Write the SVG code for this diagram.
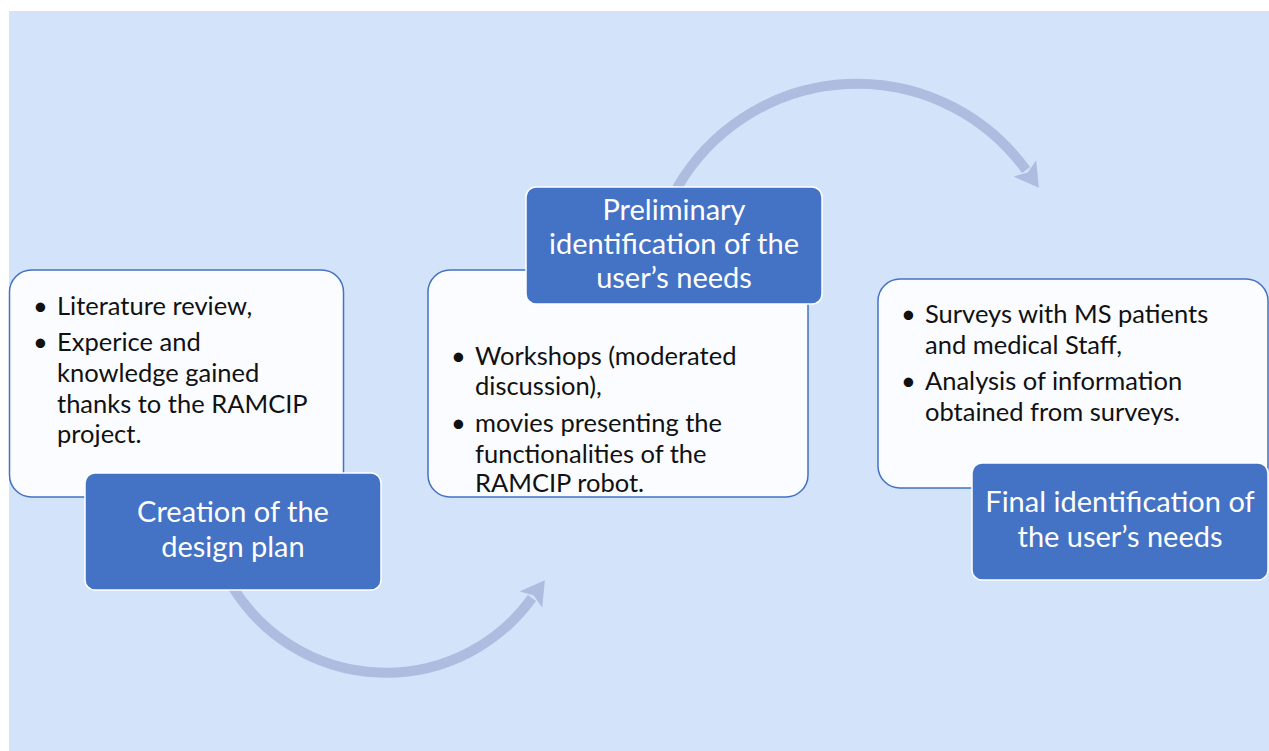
<svg xmlns="http://www.w3.org/2000/svg" width="1269" height="751" viewBox="0 0 1269 751">
<defs>
<style>
.bg{fill:#D2E3FA}
.card{fill:#FAFCFF;stroke:#4472C4;stroke-width:1.5}
.title{fill:#4472C4;stroke:#FFFFFF;stroke-width:1.5}
.body{font-family:Lato,"Open Sans",sans-serif;font-size:25.5px;fill:#111111}
.head{font-family:Lato,"Open Sans",sans-serif;font-size:29px;fill:#FFFFFF;text-anchor:middle}
.arc{fill:none;stroke:#AEBCDF;stroke-width:10}
</style>
<marker id="ah" markerUnits="userSpaceOnUse" markerWidth="26" markerHeight="28" refX="2" refY="14" orient="auto" viewBox="0 0 26 28">
<path d="M0,0 L24,14 L0,28 L5,14 Z" fill="#AEBCDF"/>
</marker>
</defs>
<rect class="bg" x="9" y="11" width="1260" height="740"/>
<g id="connectors">
<path class="arc" d="M 232 586 A 180 180 0 0 0 532 598" marker-end="url(#ah)"/>
<path class="arc" d="M 677 188 A 208 208 0 0 1 1026 170" marker-end="url(#ah)"/>
</g>
<g id="node-creation">
<rect class="card" x="9.5" y="270" width="334" height="227" rx="22"/>
<text class="body" x="33" y="315">•</text>
<text class="body" x="57" y="315">Literature review,</text>
<text class="body" x="33" y="351">•</text>
<text class="body" x="57" y="351">Experice and</text>
<text class="body" x="57" y="382">knowledge gained</text>
<text class="body" x="57" y="413">thanks to the RAMCIP</text>
<text class="body" x="57" y="443">project.</text>
<rect class="title" x="85" y="473" width="296" height="117" rx="10"/>
<text class="head" x="233" y="522">Creation of the</text>
<text class="head" x="233" y="557">design plan</text>
</g>
<g id="node-preliminary">
<rect class="card" x="428" y="270" width="380" height="227" rx="22"/>
<text class="body" x="451" y="365">•</text>
<text class="body" x="475" y="365">Workshops (moderated</text>
<text class="body" x="475" y="395">discussion),</text>
<text class="body" x="451" y="432">•</text>
<text class="body" x="475" y="432">movies presenting the</text>
<text class="body" x="475" y="463">functionalities of the</text>
<text class="body" x="475" y="492">RAMCIP robot.</text>
<rect class="title" x="526" y="187" width="296" height="117" rx="10"/>
<text class="head" x="674" y="220">Preliminary</text>
<text class="head" x="674" y="254">identification of the</text>
<text class="head" x="674" y="288">user’s needs</text>
</g>
<g id="node-final">
<rect class="card" x="878" y="279" width="390" height="209" rx="22"/>
<text class="body" x="901" y="323">•</text>
<text class="body" x="925" y="323">Surveys with MS patients</text>
<text class="body" x="925" y="354">and medical Staff,</text>
<text class="body" x="901" y="390">•</text>
<text class="body" x="925" y="390">Analysis of information</text>
<text class="body" x="925" y="421">obtained from surveys.</text>
<rect class="title" x="972" y="463" width="296" height="117" rx="10"/>
<text class="head" x="1120" y="512">Final identification of</text>
<text class="head" x="1120" y="547">the user’s needs</text>
</g>
</svg>
